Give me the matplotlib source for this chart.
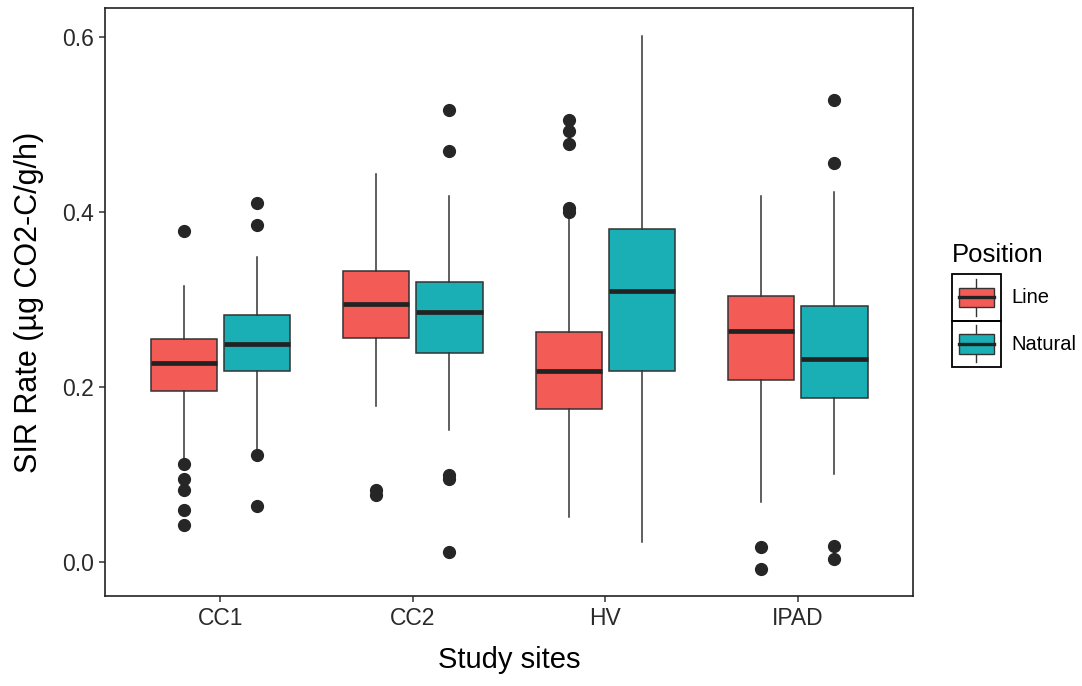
import matplotlib.pyplot as plt
from matplotlib.patches import Rectangle
from matplotlib.lines import Line2D
from matplotlib.legend_handler import HandlerBase

plt.rcParams['font.family'] = ['Liberation Sans', 'DejaVu Sans']

sites = ['CC1', 'CC2', 'HV', 'IPAD']
groups = ['Line', 'Natural']
colors = ['#F25B56', '#19AFB4']

# summary stats, one value per site
line_whislo = [0.118, 0.178, 0.052, 0.069]
line_q1 = [0.196, 0.256, 0.175, 0.208]
line_med = [0.228, 0.295, 0.218, 0.264]
line_q3 = [0.255, 0.333, 0.263, 0.304]
line_whishi = [0.315, 0.443, 0.398, 0.418]
line_fliers = [[0.378, 0.112, 0.095, 0.082, 0.059, 0.042],
               [0.082, 0.077],
               [0.505, 0.493, 0.478, 0.405, 0.400],
               [0.017, -0.008]]

nat_whislo = [0.127, 0.151, 0.023, 0.101]
nat_q1 = [0.218, 0.239, 0.218, 0.187]
nat_med = [0.249, 0.286, 0.310, 0.232]
nat_q3 = [0.282, 0.320, 0.381, 0.293]
nat_whishi = [0.349, 0.418, 0.601, 0.423]
nat_fliers = [[0.410, 0.385, 0.122, 0.064],
              [0.517, 0.470, 0.099, 0.095, 0.012],
              [],
              [0.528, 0.456, 0.018, 0.004]]


def make_stats(lo, q1, med, q3, hi, fl):
    return [dict(whislo=lo[i], q1=q1[i], med=med[i], q3=q3[i], whishi=hi[i],
                 fliers=fl[i]) for i in range(len(sites))]


class BoxKey(HandlerBase):
    def create_artists(self, legend, orig_handle, xd, yd, w, h, fontsize, trans):
        x0, y0 = -xd, -yd
        fc = orig_handle.get_facecolor()
        frame = Rectangle((x0, y0), w, h, fill=False, ec='black', lw=1.3,
                          transform=trans)
        wl = Line2D([x0 + w / 2] * 2, [y0 + 0.1 * h, y0 + 0.9 * h],
                    color='#333333', lw=1.0, transform=trans)
        box = Rectangle((x0 + 0.15 * w, y0 + 0.29 * h), 0.7 * w, 0.42 * h,
                        fc=fc, ec='#333333', lw=1.0, transform=trans)
        med = Line2D([x0 + 0.15 * w, x0 + 0.85 * w], [y0 + h / 2] * 2,
                     color='#222222', lw=2.4, transform=trans)
        return [frame, wl, box, med]


fig = plt.figure(figsize=(10.82, 6.86), dpi=100)
ax = fig.add_axes([0.097, 0.131, 0.747, 0.857])

all_stats = [make_stats(line_whislo, line_q1, line_med, line_q3, line_whishi, line_fliers),
             make_stats(nat_whislo, nat_q1, nat_med, nat_q3, nat_whishi, nat_fliers)]
offsets = [-0.19, 0.19]

for k, stats in enumerate(all_stats):
    pos = [i + 1 + offsets[k] for i in range(len(sites))]
    ax.bxp(stats, positions=pos, widths=0.345, patch_artist=True,
           showcaps=False,
           boxprops=dict(facecolor=colors[k], edgecolor='#333333', linewidth=1.1),
           whiskerprops=dict(color='#333333', linewidth=1.1),
           medianprops=dict(color='#222222', linewidth=3.4, solid_capstyle='butt'),
           flierprops=dict(marker='o', markerfacecolor='#262626',
                           markeredgecolor='#262626', markersize=8.5))

ax.set_xlim(0.4, 4.6)
ax.set_ylim(-0.039, 0.633)
ax.set_xticks(range(1, len(sites) + 1))
ax.set_xticklabels(sites)
ax.set_yticks([0.0, 0.2, 0.4, 0.6])
ax.set_yticklabels(['0.0', '0.2', '0.4', '0.6'])
ax.tick_params(labelsize=16.5, length=4, width=1.1, colors='#333333',
               labelcolor='#2a2a2a', pad=4)
for s in ax.spines.values():
    s.set_linewidth(1.2)
    s.set_color('#222222')

ax.set_xlabel('Study sites', fontsize=21, labelpad=11)
ax.set_ylabel('SIR Rate (µg CO2-C/g/h)', fontsize=22, labelpad=13)

fig.text(952 / 1082, 1 - 262 / 686, 'Position', fontsize=18.5,
         ha='left', va='baseline')
handles = [Rectangle((0, 0), 1, 1, facecolor=c) for c in colors]
ax.legend(handles, groups, handler_map={h: BoxKey() for h in handles},
          fontsize=14.5, loc='upper left',
          bbox_to_anchor=(952 / 1082, 1 - 274 / 686),
          bbox_transform=fig.transFigure, frameon=False,
          handlelength=2.43, handleheight=3.18, labelspacing=0,
          handletextpad=0.5, borderpad=0, borderaxespad=0)

fig.savefig('out.png', dpi=100)
